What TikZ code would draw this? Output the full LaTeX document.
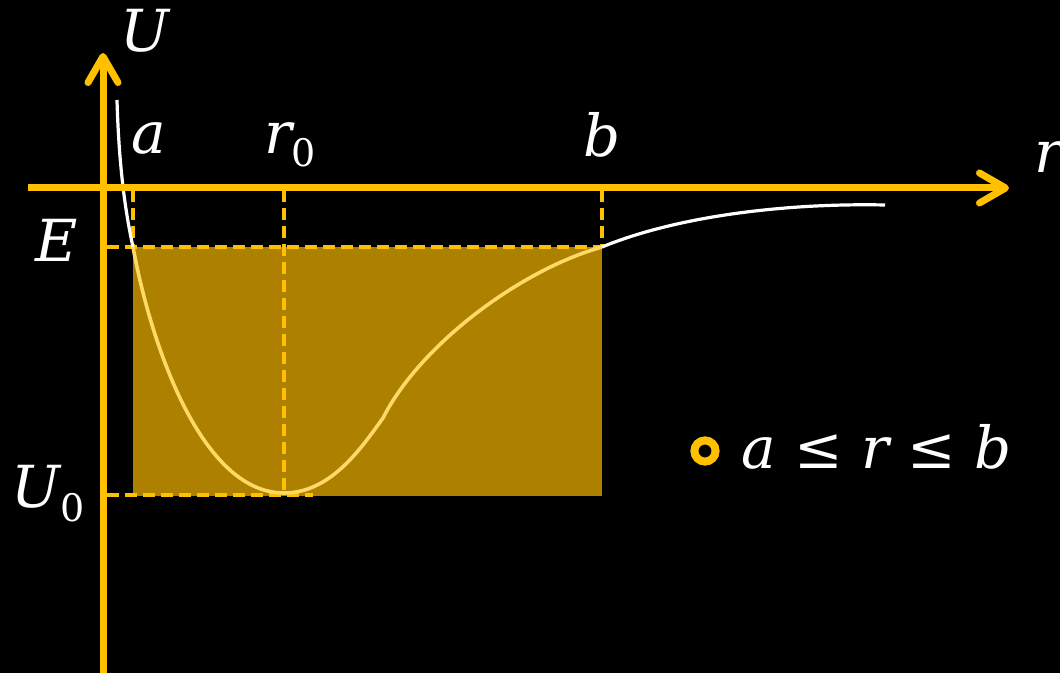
\documentclass[tikz,border=0pt]{standalone}
\usepackage{fontspec}
\setmainfont{DejaVu Serif}
\usetikzlibrary{arrows.meta}
\definecolor{axiscol}{HTML}{FFC000}
\definecolor{wellcol}{HTML}{AD8000}
\definecolor{incurve}{HTML}{FFD966}
\newcommand\subz[1]{\raisebox{-6.5pt}{\fontsize{19}{20}\selectfont\upshape #1}}
\begin{document}
\begin{tikzpicture}[x=0.5pt,y=-0.5pt,
  lbl/.style={text=white,font=\fontsize{29}{35}\selectfont\itshape,inner sep=0pt,anchor=base},
  axisline/.style={draw=axiscol,line width=3.5pt,-{Straight Barb[length=13pt,width=15pt,round,line width=3.5pt]}},
  guide/.style={draw=axiscol,line width=2pt,dash pattern=on 6pt off 3pt},
  outcurve/.style={draw=white,line width=1.6pt},
  incurvest/.style={draw=incurve,line width=1.8pt}]
\fill[black] (0,0) rectangle (1060,673);
\useasboundingbox (0,0) rectangle (1060,673);
% coordinates
\coordinate (A0) at (133,190);
\coordinate (AE) at (133,247);
\coordinate (R0) at (284,190);
\coordinate (RU) at (284,495);
\coordinate (B0) at (602,190);
\coordinate (BE) at (602,247);
\coordinate (EL) at (107,247);
\coordinate (UL) at (107,495);
\coordinate (UR) at (313,495);
\coordinate (C0) at (117,100);
\coordinate (CM) at (284,493);
\coordinate (CK) at (383,418);
\coordinate (CE) at (885,205);
% well
\fill[wellcol] (133,247) rectangle (602,496);
% guides
\draw[guide] (EL) -- (BE);
\draw[guide] (A0) -- (AE);
\draw[guide] (B0) -- (BE);
\draw[guide] (R0) -- (RU);
\draw[guide] (UL) -- (UR);
% curve
\draw[outcurve] (C0) .. controls (119,170) and (126,215) .. (AE);
\draw[incurvest] (AE) .. controls (150,340) and (200,493) .. (CM)
   .. controls (330,493) and (360,450) .. (CK)
   .. controls (420,345) and (520,270) .. (BE);
\draw[outcurve] (BE) .. controls (680,215) and (790,203) .. (CE);
% axes
\coordinate (vb) at (103,673);
\coordinate (vt) at (103,53);
\coordinate (hl) at (28,188);
\coordinate (hr) at (1009,188);
\draw[axisline] (vb) -- (vt);
\draw[axisline] (hl) -- (hr);
% labels
\node[lbl] (U) at (145,52) {U};
\node[lbl] (r) at (1048,173) {r};
\node[lbl] (a) at (149,154) {a};
\node[lbl] (r0) at (290,154) {r\subz{0}};
\node[lbl] (b) at (602,157) {b};
\node[lbl] (E) at (57,262) {E};
\node[lbl] (U0) at (48,508) {U\subz{0}};
% legend
\draw[axiscol,line width=4pt] (705,451) circle (5.3pt);
\node[lbl,anchor=base west] (cond) at (741,468) {a ≤ r ≤ b};
\end{tikzpicture}
\end{document}
